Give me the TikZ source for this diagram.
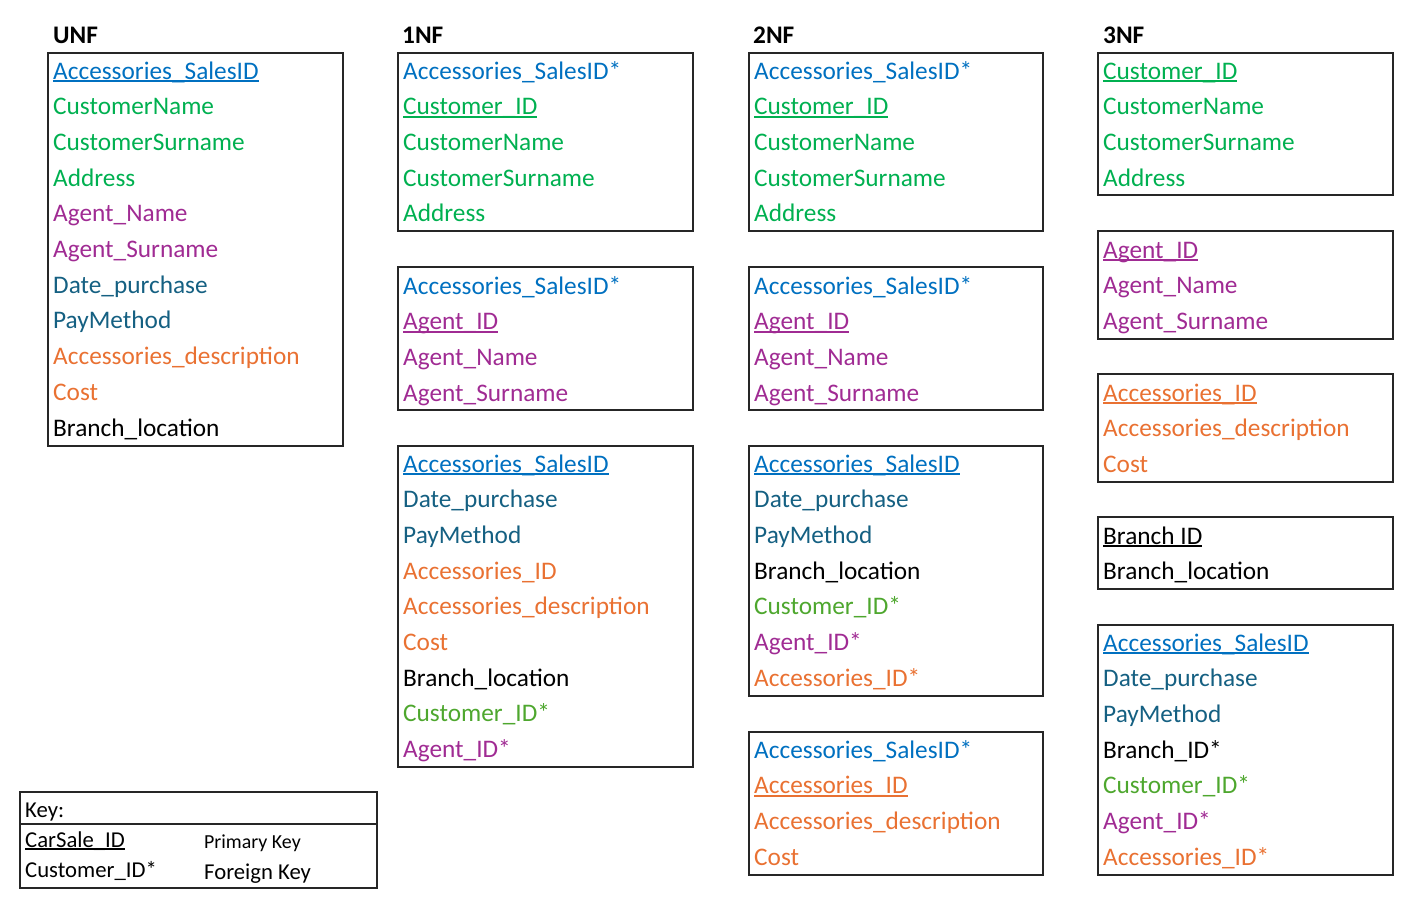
\documentclass[tikz,border=0pt]{standalone}
\usepackage{fontspec}
\setmainfont{Carlito}
\definecolor{cB}{HTML}{0070C0}
\definecolor{cG}{HTML}{00B050}
\definecolor{cH}{HTML}{4EA72E}
\definecolor{cP}{HTML}{A02B93}
\definecolor{cT}{HTML}{156082}
\definecolor{cO}{HTML}{E97132}
\definecolor{cK}{HTML}{000000}
\newcommand\pk[1]{\setbox0\hbox{#1}\rlap{\rule[-2.8pt]{\wd0}{2pt}}\box0}
\newcommand\fieldrows[4]{%
  \foreach \c/\t [count=\i from 0] in {#4} {%
    \node[fld,text=\c] (#1-\i) at (#2,{#3+35.7*\i}) {\t};}}
\tikzset{
  fld/.style={anchor=base west, inner sep=0pt, font=\fontsize{25.3}{30}\selectfont},
  ttl/.style={anchor=base west, inner sep=0pt, font=\fontsize{25.3}{30}\selectfont\bfseries},
  keyf/.style={anchor=base west, inner sep=0pt, font=\fontsize{22.7}{27}\selectfont},
  tbl/.style={draw=black!85, line width=2pt},
}
\begin{document}
\begin{tikzpicture}[x=1pt,y=-1pt]
\useasboundingbox (0,0) rectangle (1422,910);
% titles
\node[ttl] (tUNF) at (53,43) {UNF};
\node[ttl] (t1NF) at (402,43) {1NF};
\node[ttl] (t2NF) at (753,43) {2NF};
\node[ttl] (t3NF) at (1103,43) {3NF};
% UNF
\draw[tbl] (48,53) rectangle (343,446);
\fieldrows{u}{53}{79}{cB/\pk{Accessories\_SalesID},cG/CustomerName,cG/CustomerSurname,cG/Address,cP/Agent\_Name,cP/Agent\_Surname,cT/Date\_purchase,cT/PayMethod,cO/Accessories\_description,cO/Cost,cK/Branch\_location}
% 1NF
\draw[tbl] (398,53) rectangle (693,231);
\fieldrows{a}{403}{79}{cB/Accessories\_SalesID*,cG/\pk{Customer\_ID},cG/CustomerName,cG/CustomerSurname,cG/Address}
\draw[tbl] (398,267) rectangle (693,410);
\fieldrows{b}{403}{294}{cB/Accessories\_SalesID*,cP/\pk{Agent\_ID},cP/Agent\_Name,cP/Agent\_Surname}
\draw[tbl] (398,446) rectangle (693,767);
\fieldrows{c}{403}{472}{cB/\pk{Accessories\_SalesID},cT/Date\_purchase,cT/PayMethod,cO/Accessories\_ID,cO/Accessories\_description,cO/Cost,cK/Branch\_location,cH/Customer\_ID*,cP/Agent\_ID*}
% 2NF
\draw[tbl] (749,53) rectangle (1043,231);
\fieldrows{d}{754}{79}{cB/Accessories\_SalesID*,cG/\pk{Customer\_ID},cG/CustomerName,cG/CustomerSurname,cG/Address}
\draw[tbl] (749,267) rectangle (1043,410);
\fieldrows{e}{754}{294}{cB/Accessories\_SalesID*,cP/\pk{Agent\_ID},cP/Agent\_Name,cP/Agent\_Surname}
\draw[tbl] (749,446) rectangle (1043,696);
\fieldrows{f}{754}{472}{cB/\pk{Accessories\_SalesID},cT/Date\_purchase,cT/PayMethod,cK/Branch\_location,cH/Customer\_ID*,cP/Agent\_ID*,cO/Accessories\_ID*}
\draw[tbl] (749,732) rectangle (1043,875);
\fieldrows{g}{754}{758}{cB/Accessories\_SalesID*,cO/\pk{Accessories\_ID},cO/Accessories\_description,cO/Cost}
% 3NF
\draw[tbl] (1098,53) rectangle (1393,195);
\fieldrows{h}{1103}{79}{cG/\pk{Customer\_ID},cG/CustomerName,cG/CustomerSurname,cG/Address}
\draw[tbl] (1098,231) rectangle (1393,339);
\fieldrows{i}{1103}{258}{cP/\pk{Agent\_ID},cP/Agent\_Name,cP/Agent\_Surname}
\draw[tbl] (1098,374) rectangle (1393,482);
\fieldrows{j}{1103}{401}{cO/\pk{Accessories\_ID},cO/Accessories\_description,cO/Cost}
\draw[tbl] (1098,517) rectangle (1393,589);
\fieldrows{k}{1103}{544}{cK/\pk{Branch ID},cK/Branch\_location}
\draw[tbl] (1098,625) rectangle (1393,875);
\fieldrows{l}{1103}{651}{cB/\pk{Accessories\_SalesID},cT/Date\_purchase,cT/PayMethod,cK/Branch\_ID*,cH/Customer\_ID*,cP/Agent\_ID*,cO/Accessories\_ID*}
% key
\draw[tbl] (20,792) rectangle (377,888);
\draw[tbl] (20,824) -- (377,824);
\node[keyf] (key) at (25,817) {Key:};
\node[keyf] (kpk) at (25,847) {\pk{CarSale\_ID}};
\node[keyf] (kfk) at (25,877) {Customer\_ID*};
\node[anchor=base west, inner sep=0pt, font=\fontsize{19.9}{24}\selectfont] (kpkl) at (204,848) {Primary Key};
\node[keyf] (kfkl) at (204,879) {Foreign Key};
\end{tikzpicture}
\end{document}
